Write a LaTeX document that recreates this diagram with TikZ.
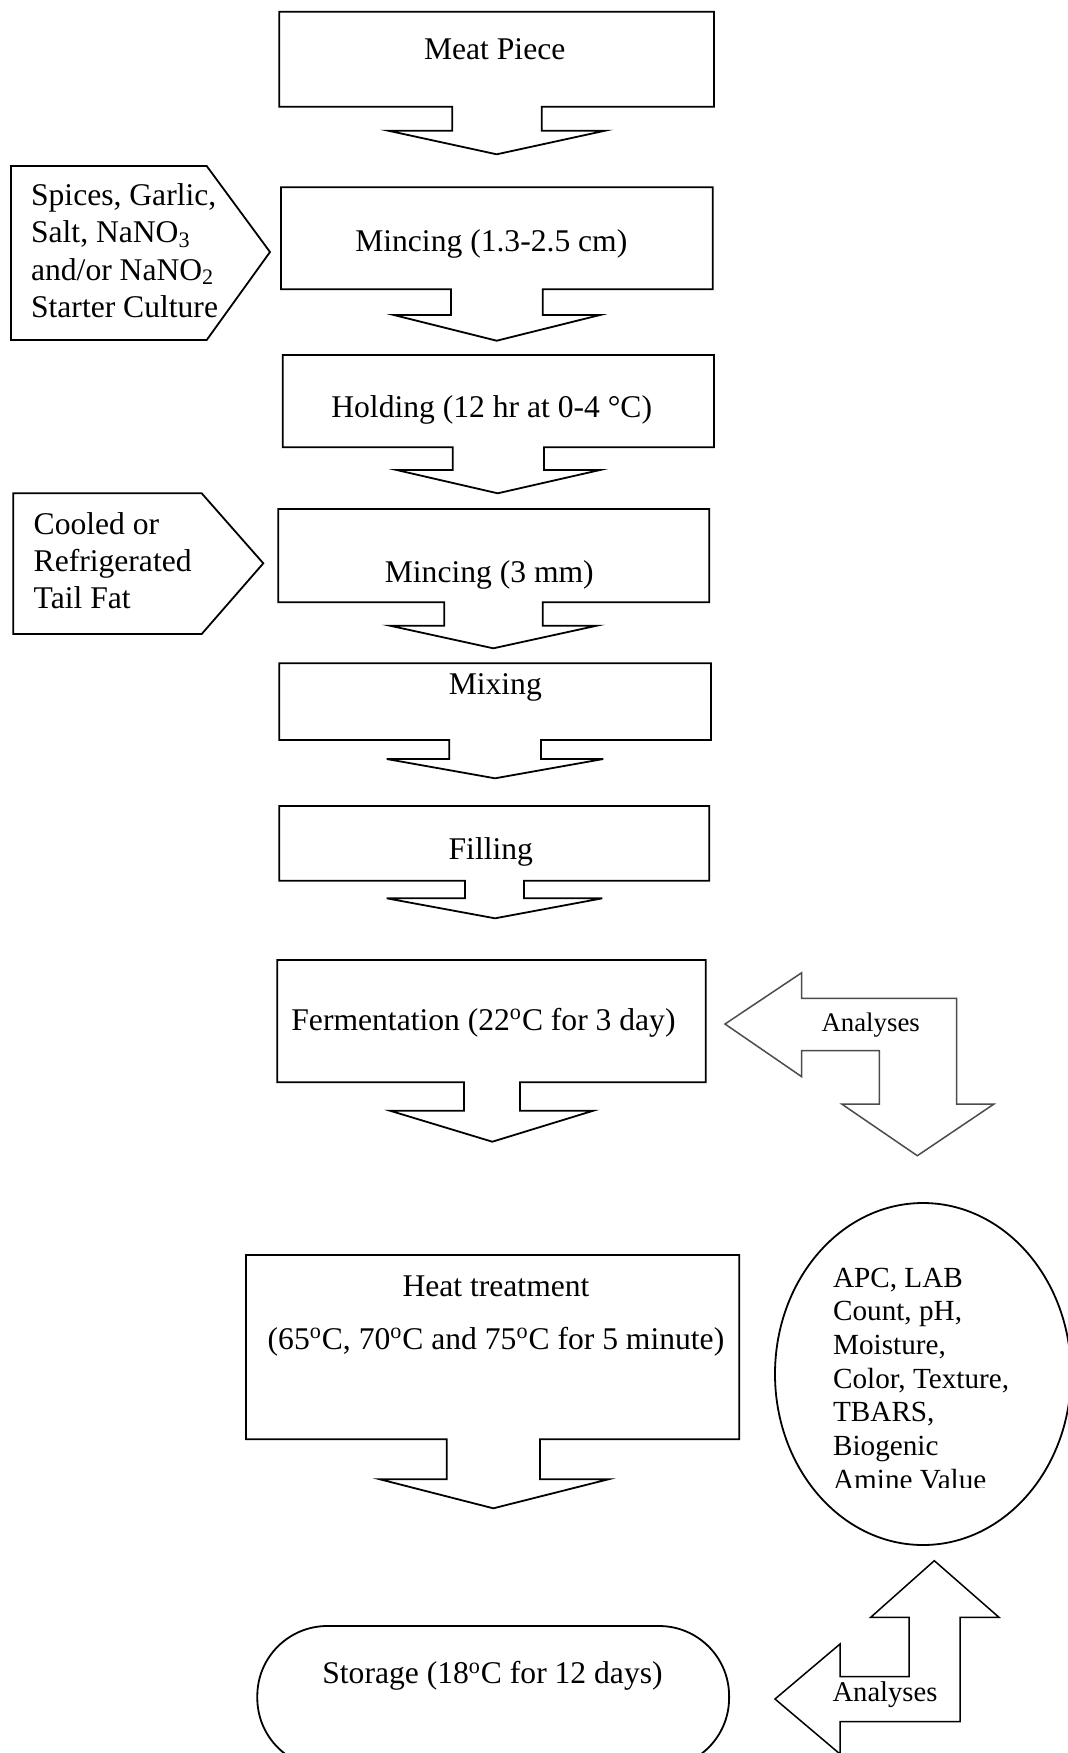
\documentclass[tikz,border=0pt]{standalone}
\usepackage{fontspec}
\setmainfont{Liberation Serif}
\usepackage{tikz}
\usetikzlibrary{shapes.geometric,positioning}

\begin{document}
\begin{tikzpicture}[
  x=0.5pt, y=-0.5pt,
  font=\fontsize{15.8}{18.6}\selectfont,
  frame/.style={draw=black, line width=0.9pt, fill=white, line join=miter},
  bent/.style={line width=0.75pt, fill=white, line join=miter},
  steptext/.style={anchor=base, inner sep=0pt},
  addtext/.style={anchor=north west, inner sep=0pt, align=left},
  testtext/.style={anchor=north west, inner sep=0pt, align=left, font=\fontsize{14.6}{16.85}\selectfont}
]
\useasboundingbox (0,0) rectangle (1068,1753);
\clip (0,0) rectangle (1068,1753);
\fill[white] (0,0) rectangle (1068,1753);

\draw[frame] (452.3,106.7) -- (279.3,106.7) -- (279.3,11.7) -- (714,11.7) -- (714,106.7) -- (541.7,106.7) -- (541.7,130.7) -- (605,130.7) -- (496.7,154.3) -- (388.3,130.7) -- (452.3,130.7) -- cycle;
\node[steptext] (meat) at (494.7,59.3) {Meat Piece};

\draw[frame] (451,289.3) -- (281,289.3) -- (281,187.3) -- (712.7,187.3) -- (712.7,289.3) -- (542.7,289.3) -- (542.7,315) -- (600,315) -- (496.7,340.7) -- (394,315) -- (451,315) -- cycle;
\node[steptext] (mince) at (491.3,251.7) {Mincing (1.3-2.5 cm)};

\draw[frame] (11,166) -- (206.7,166) -- (270,252) -- (206.7,340) -- (11,340) -- cycle;
\node[addtext] (spices) at (30.7,183.4) {Spices, Garlic,\\Salt, NaNO\textsubscript{3}\\and/or NaNO\textsubscript{2}\\Starter Culture};

\draw[frame] (452.7,447.3) -- (282.7,447.3) -- (282.7,355) -- (714,355) -- (714,447.3) -- (544,447.3) -- (544,470) -- (600,470) -- (497.7,493.3) -- (396.7,470) -- (452.7,470) -- cycle;
\node[steptext] (hold) at (491.7,417.3) {Holding (12 hr at 0-4 °C)};

\draw[frame] (444.3,602.3) -- (278.3,602.3) -- (278.3,509) -- (709.3,509) -- (709.3,602.3) -- (542.7,602.3) -- (542.7,625.7) -- (596.7,625.7) -- (493.3,648.3) -- (390,625.7) -- (444.3,625.7) -- cycle;
\node[steptext] (mincefine) at (489.3,582.3) {Mincing (3 mm)};

\draw[frame] (13.3,493.3) -- (201.7,493.3) -- (263.3,563.3) -- (201.7,634) -- (13.3,634) -- cycle;
\node[addtext] (tailfat) at (33.3,511.7) {Cooled or\\Refrigerated\\Tail Fat};

\draw[frame] (449.3,740) -- (279.3,740) -- (279.3,663.3) -- (711,663.3) -- (711,740) -- (541,740) -- (541,759) -- (603.3,759) -- (495,778.3) -- (386.7,759) -- (449.3,759) -- cycle;
\node[steptext] (mix) at (495.3,694) {Mixing};

\draw[frame] (465,880.7) -- (279.3,880.7) -- (279.3,806) -- (709.3,806) -- (709.3,880.7) -- (524,880.7) -- (524,898.3) -- (602.3,898.3) -- (495,918.3) -- (386.7,898.3) -- (465,898.3) -- cycle;
\node[steptext] (fill) at (490.8,859.3) {Filling};

\draw[frame] (464,1082.3) -- (277.3,1082.3) -- (277.3,960) -- (705.7,960) -- (705.7,1082.3) -- (520,1082.3) -- (520,1110.7) -- (593.3,1110.7) -- (492.3,1141.7) -- (390,1110.7) -- (464,1110.7) -- cycle;
\node[steptext] (ferment) at (483.5,1030) {Fermentation (22\textsuperscript{o}C for 3 day)};

\draw[bent, draw=black!70] (725,1024) -- (801.7,972.7) -- (801.7,998.3) -- (956.7,998.3) -- (956.7,1104) -- (994,1104) -- (917.3,1155.7) -- (841.7,1104) -- (879.3,1104) -- (879.3,1050.7) -- (801.7,1050.7) -- (801.7,1076.7) -- cycle;
\node[font=\fontsize{13.4}{16}\selectfont, inner sep=0pt] (analyses1) at (870.7,1025) {Analyses};

\draw[frame] (446.7,1439.3) -- (246,1439.3) -- (246,1255) -- (739.3,1255) -- (739.3,1439.3) -- (540,1439.3) -- (540,1479.3) -- (608.3,1479.3) -- (493.3,1508.3) -- (380,1479.3) -- (446.7,1479.3) -- cycle;
\node[anchor=north, inner sep=0pt, align=center, font=\fontsize{15.8}{26.5}\selectfont] (heat) at (496,1275) {Heat treatment\\(65\textsuperscript{o}C, 70\textsuperscript{o}C and 75\textsuperscript{o}C for 5 minute)};

\node[draw, ellipse, line width=0.9pt, minimum width=148pt, minimum height=171pt, inner sep=0pt] (tests) at (923,1374) {};
\begin{scope}
\clip (780,1230) rectangle (1060,1487);
\node[testtext] (testlist) at (832.7,1267.4) {APC, LAB\\Count, pH,\\Moisture,\\Color, Texture,\\TBARS,\\Biogenic\\Amine Value};
\end{scope}

\node[draw, line width=0.9pt, rounded corners=35pt, minimum width=235.9pt, minimum height=71pt, inner sep=0pt] (store) at (493.2,1697) {};
\node[steptext] (storetext) at (492.5,1683.5) {Storage (18\textsuperscript{o}C for 12 days)};

\draw[bent, draw=black] (934.3,1560.7) -- (999,1617.3) -- (960,1617.3) -- (960,1721.7) -- (840,1721.7) -- (840,1754) -- (775,1699) -- (840,1644) -- (840,1676.7) -- (909,1676.7) -- (909,1617.3) -- (870.7,1617.3) -- cycle;
\node[font=\fontsize{14.3}{17}\selectfont, inner sep=0pt] (analyses2) at (885,1695) {Analyses};
\end{tikzpicture}
\end{document}
